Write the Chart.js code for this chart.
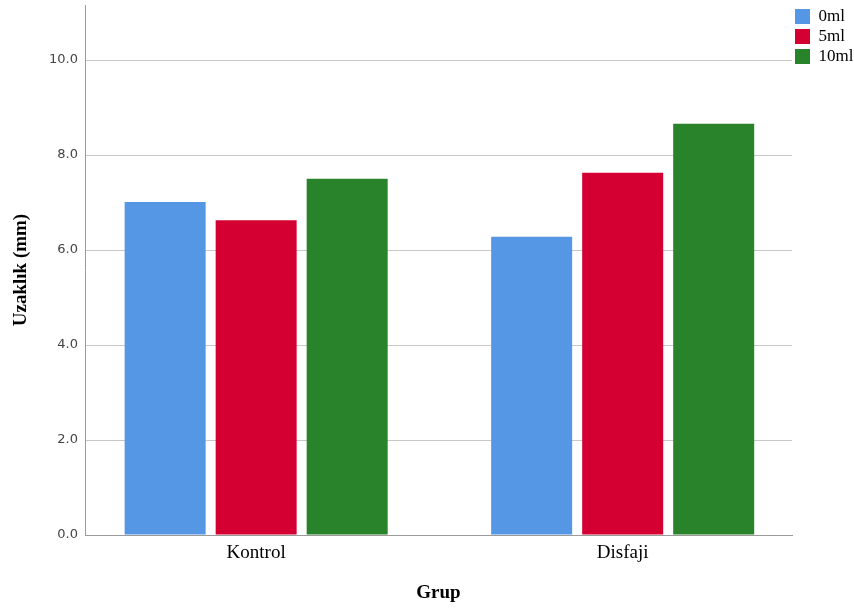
<!DOCTYPE html>
<html>
<head>
<meta charset="utf-8">
<script src="https://cdn.jsdelivr.net/npm/chart.js@4.4.1/dist/chart.umd.min.js"></script>
<style>
  html, body { margin: 0; padding: 0; background: #ffffff; }
  #wrap { width: 854px; height: 613px; }
</style>
</head>
<body>
<div id="wrap"><canvas id="c" width="854" height="613"></canvas></div>
<script>
const categories = ['Kontrol', 'Disfaji'];
const seriesNames = ['0ml', '5ml', '10ml'];
const values0ml = [7.01, 6.28];
const values5ml = [6.63, 7.63];
const values10ml = [7.50, 8.66];
const yTickValues = [0, 2, 4, 6, 8, 10];
const xTitle = 'Grup';
const yTitle = 'Uzaklık (mm)';

const colors = ['#5597e4', '#d50032', '#29832a'];
const seriesValues = [values0ml, values5ml, values10ml];

const datasets = seriesNames.map((name, s) => ({
  label: name,
  data: seriesValues[s].map((v, i) => ({ x: i, y: v })),
  backgroundColor: colors[s],
  borderWidth: 0,
  categoryPercentage: 0.745,
  barPercentage: 0.89
}));

const legendWidthPlugin = {
  id: 'legendWidth',
  afterInit(chart) {
    const lg = chart.legend;
    if (lg && !lg._patched) {
      const orig = lg.fit.bind(lg);
      lg.fit = function () { orig(); this.width = 62; };
      lg._patched = true;
    }
  }
};

new Chart(document.getElementById('c'), {
  type: 'bar',
  data: { datasets },
  plugins: [legendWidthPlugin],
  options: {
    responsive: false,
    animation: false,
    devicePixelRatio: 1,
    layout: { padding: { top: 5, left: 0, right: 0, bottom: 0 } },
    plugins: {
      tooltip: { enabled: false },
      legend: {
        position: 'right',
        align: 'start',
        labels: {
          boxWidth: 15,
          boxHeight: 15,
          padding: 3,
          color: '#000',
          font: { family: 'Liberation Serif', size: 17 }
        }
      }
    },
    scales: {
      x: {
        type: 'linear',
        offset: false,
        min: -0.467,
        max: 1.462,
        afterBuildTicks(scale) { scale.ticks = categories.map((c, i) => ({ value: i })); },
        afterFit(scale) { scale.height = 78; scale.paddingLeft = 0; scale.paddingRight = 0; },
        grid: { display: false, drawTicks: false },
        border: { display: true, color: '#9a9a9a', width: 1 },
        ticks: {
          padding: 7,
          color: '#000',
          font: { family: 'Liberation Serif', size: 19 },
          callback: (v) => categories[v] ?? ''
        },
        title: {
          display: true,
          text: xTitle,
          color: '#000',
          font: { family: 'Liberation Serif', size: 19, weight: 'bold' },
          padding: { top: 0, bottom: 9 }
        }
      },
      y: {
        min: 0,
        max: 11.16,
        afterBuildTicks(scale) { scale.ticks = yTickValues.map(v => ({ value: v })); },
        afterFit(scale) { scale.width = 85; scale.paddingTop = 2; scale.paddingBottom = 0; },
        grid: { color: '#c8c8c8', lineWidth: 1, drawTicks: false },
        border: { display: true, color: '#9a9a9a', width: 1 },
        ticks: {
          padding: 7,
          color: '#444',
          font: { family: 'DejaVu Sans', size: 13 },
          callback: (v) => Number(v).toFixed(1)
        },
        title: {
          display: true,
          text: yTitle,
          color: '#000',
          font: { family: 'Liberation Serif', size: 19, weight: 'bold' },
          padding: { top: 10, bottom: 0 }
        }
      }
    }
  }
});
</script>
</body>
</html>
